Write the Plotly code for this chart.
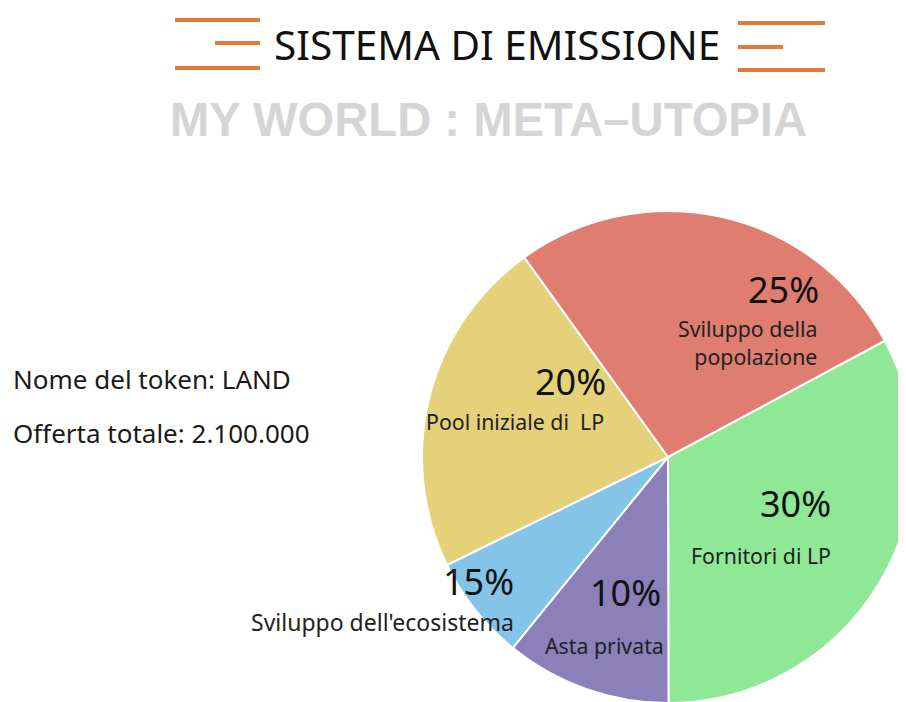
import plotly.graph_objects as go

# ---- data ----
categories = ["Fornitori di LP", "Asta privata", "Sviluppo dell'ecosistema",
              "Pool iniziale di  LP", "Sviluppo della<br>popolazione"]
# visual share of each slice (measured from slice angles)
slice_share = [32.8, 10.9, 6.9, 22.3, 27.1]
# percentage labels printed on the chart
pct_labels = ["30%", "10%", "15%", "20%", "25%"]
colors = ["#8FE895", "#8B80B9", "#83C4E8", "#E6D17B", "#DF7D70"]

title_text = "SISTEMA DI EMISSIONE"
subtitle_text = "MY WORLD : META–UTOPIA"
info_lines = ["Nome del token: LAND", "Offerta totale: 2.100.000"]

W, H = 906, 702


def px(x):
    return x / W


def py(y):
    return 1 - y / H


# pie geometry (pixels)
cx, cy, R = 660, 449, 246

fig = go.Figure()
fig.add_trace(go.Pie(
    labels=categories,
    values=slice_share,
    sort=False,
    direction="clockwise",
    rotation=61.8,
    marker=dict(colors=colors, line=dict(color="white", width=2)),
    textinfo="none",
    hoverinfo="label+percent",
    showlegend=False,
    domain=dict(x=[px(cx - R), px(cx + R)], y=[py(cy + R), py(cy - R)]),
))

annotations = []
# title & subtitle
annotations.append(dict(text=title_text, x=px(488.5), y=py(37), xref="paper", yref="paper",
                        showarrow=False, xanchor="center", yanchor="middle",
                        font=dict(family="Noto Sans", size=40.5, color="#111111")))
annotations.append(dict(text="<b>" + subtitle_text + "</b>", x=px(480), y=py(111),
                        xref="paper", yref="paper", showarrow=False,
                        xanchor="center", yanchor="middle",
                        font=dict(family="Liberation Sans", size=47.2, color="#D5D5D5")))
# info lines
for txt, yy in zip(info_lines, [371, 425]):
    annotations.append(dict(text=txt, x=px(3), y=py(yy), xref="paper", yref="paper",
                            showarrow=False, xanchor="left", yanchor="middle",
                            font=dict(family="Noto Sans", size=26, color="#1a1a1a")))

# slice label placement: (percent right x, percent y, name right x, name y, name size)
label_pos = [(825, 495, 825, 547, 21.3), (655, 584, 658, 637, 21.3),
             (508, 573, 508, 614, 23.0), (600, 374, 598, 413, 21.3),
             (813, 281, 811, 335, 21.3)]
for cat, pct, (xp, yp, xn, yn, fs) in zip(categories, pct_labels, label_pos):
    annotations.append(dict(text=pct, x=px(xp), y=py(yp), xref="paper", yref="paper",
                            showarrow=False, xanchor="right", yanchor="middle",
                            font=dict(family="Noto Sans", size=36, color="#111111")))
    annotations.append(dict(text=cat, x=px(xn), y=py(yn), xref="paper", yref="paper",
                            showarrow=False, xanchor="right", yanchor="middle", align="right",
                            font=dict(family="Noto Sans", size=fs, color="#222222")))

# decorative orange bars beside the title
shapes = []
bars = [(167, 252, 12), (207, 252, 35), (167, 252, 60),
        (730, 817, 15), (730, 775, 39), (730, 817, 62)]
for x0, x1, yy in bars:
    shapes.append(dict(type="line", xref="paper", yref="paper",
                       x0=px(x0), x1=px(x1), y0=py(yy), y1=py(yy),
                       line=dict(color="#E27A3A", width=4)))

fig.update_layout(
    width=W, height=H,
    margin=dict(l=0, r=0, t=0, b=0),
    paper_bgcolor="white", plot_bgcolor="white",
    annotations=annotations,
    shapes=shapes,
)

fig.write_html("out.html")
